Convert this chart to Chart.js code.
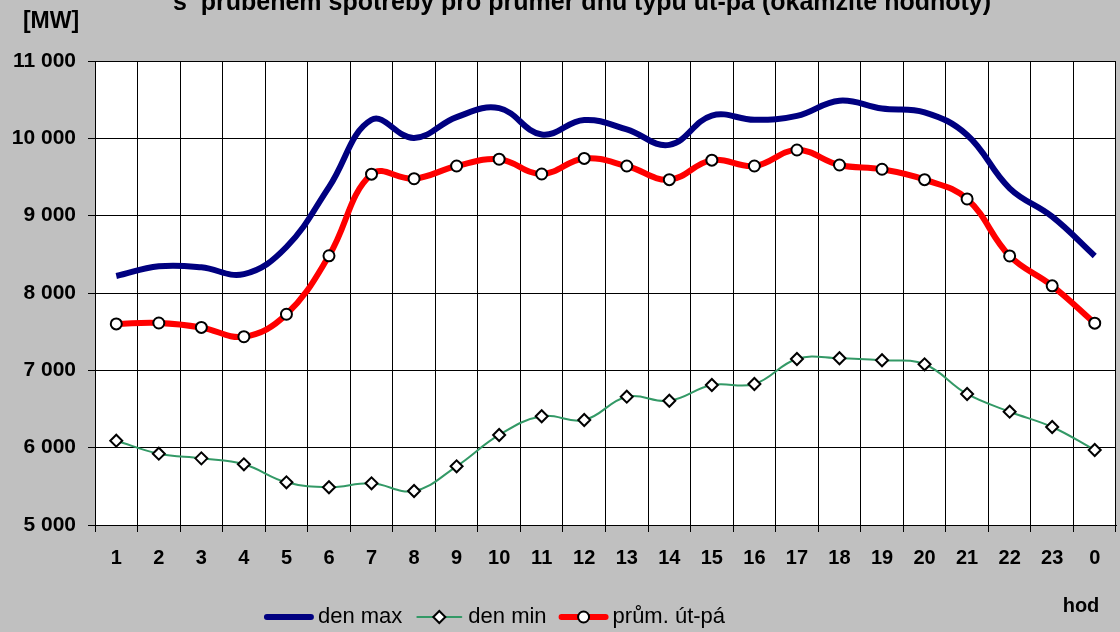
<!DOCTYPE html>
<html><head><meta charset="utf-8">
<script src="https://cdn.jsdelivr.net/npm/chart.js@4/dist/chart.umd.min.js"></script>
<style>
html,body{margin:0;padding:0;background:#c0c0c0;overflow:hidden;}
#wrap{position:relative;width:1124px;height:632px;}
</style></head><body>
<div id="wrap"><canvas id="c" width="1124" height="632"></canvas></div>
<script>
const hours = ['1','2','3','4','5','6','7','8','9','10','11','12','13','14','15','16','17','18','19','20','21','22','23','0'];
const denMax = [8220,8345,8332,8244,8595,9370,10240,10005,10275,10390,10050,10237,10115,9915,10295,10240,10290,10487,10385,10337,10043,9354,8987,8479];
const denMin = [6090,5922,5862,5785,5552,5488,5539,5440,5759,6164,6406,6358,6659,6607,6810,6823,7147,7156,7130,7078,6694,6465,6267,5970];
const prumUtPa = [7600,7612,7555,7435,7725,8481,9537,9478,9642,9730,9539,9740,9642,9466,9718,9642,9849,9655,9600,9466,9216,8479,8093,7610];
const yMin = 5000, yMax = 11000, yStep = 1000;
const seriesNames = ['den max','den min','prům. út-pá'];
const titleText = 's  průběhem spotřeby pro průměr dnů typu út-pá (okamžité hodnoty)';
const unitLabel = '[MW]';
const xAxisLabel = 'hod';

const FONT = '"Liberation Sans", Arial, sans-serif';
const COL_MAX = '#000080', COL_MIN = '#339966', COL_AVG = '#ff0000';

const decor = {
  id: 'decor',
  beforeDraw(chart) {
    const {ctx, chartArea: a} = chart;
    ctx.save();
    ctx.fillStyle = '#ffffff';
    ctx.fillRect(a.left, a.top, a.right - a.left, a.bottom - a.top);
    ctx.restore();
  },
  afterDraw(chart) {
    const ctx = chart.ctx;
    ctx.save();
    ctx.fillStyle = '#000';
    ctx.textBaseline = 'alphabetic';
    ctx.textAlign = 'center';
    ctx.font = 'bold 25px ' + FONT;
    ctx.fillText(titleText, 582, 10);
    ctx.font = 'bold 23px ' + FONT;
    ctx.textBaseline = 'middle';
    ctx.fillText(unitLabel, 51, 22);
    ctx.font = 'bold 20px ' + FONT;
    ctx.fillText(xAxisLabel, 1081, 606);

    // legend
    const ds = chart.data.datasets;
    ctx.font = '22px ' + FONT;
    const sample = 48, gap = 5, spacing = 13;
    const widths = ds.map(d => sample + gap + ctx.measureText(d.label).width);
    const total = widths.reduce((s, w) => s + w, 0) + spacing * (ds.length - 1);
    let x = 495 - total / 2;
    const y = 617;
    ds.forEach((d, i) => {
      ctx.strokeStyle = d.borderColor;
      ctx.lineWidth = d.borderWidth;
      ctx.lineCap = 'round';
      ctx.beginPath();
      ctx.moveTo(x + 2, y);
      ctx.lineTo(x + sample - 2, y);
      ctx.stroke();
      if (d.pointRadius > 0) {
        ctx.fillStyle = d.pointBackgroundColor;
        ctx.strokeStyle = d.pointBorderColor;
        ctx.lineWidth = d.pointBorderWidth;
        Chart.helpers.drawPoint(ctx, {pointStyle: d.pointStyle, radius: d.pointRadius, borderWidth: d.pointBorderWidth, rotation: 0}, x + sample / 2, y);
      }
      ctx.fillStyle = '#000';
      ctx.textAlign = 'left';
      ctx.textBaseline = 'middle';
      ctx.fillText(d.label, x + sample + gap, y);
      x += widths[i] + spacing;
    });
    ctx.restore();
  }
};

new Chart(document.getElementById('c'), {
  type: 'line',
  data: {
    labels: hours,
    datasets: [
      {label: seriesNames[0], data: denMax, borderColor: COL_MAX, backgroundColor: COL_MAX, borderWidth: 6, pointRadius: 0, pointHoverRadius: 0, tension: 0.4, fill: false},
      {label: seriesNames[1], data: denMin, borderColor: COL_MIN, backgroundColor: COL_MIN, borderWidth: 2, pointStyle: 'rectRot', pointRadius: 6, pointBackgroundColor: '#fff', pointBorderColor: '#000', pointBorderWidth: 2, tension: 0.4, fill: false},
      {label: seriesNames[2], data: prumUtPa, borderColor: COL_AVG, backgroundColor: COL_AVG, borderWidth: 6, pointStyle: 'circle', pointRadius: 5.5, pointBackgroundColor: '#fff', pointBorderColor: '#000', pointBorderWidth: 2, tension: 0.4, fill: false}
    ]
  },
  options: {
    responsive: false,
    animation: false,
    devicePixelRatio: 1,
    layout: {padding: {left: 0, top: 61, right: 2, bottom: 67}},
    plugins: {legend: {display: false}, title: {display: false}, tooltip: {enabled: false}},
    scales: {
      x: {
        type: 'category',
        offset: true,
        grid: {offset: true, color: '#000', lineWidth: 1, tickLength: 7, drawTicks: true},
        border: {color: '#000', width: 1},
        ticks: {color: '#000', font: {family: FONT, size: 20, weight: 'bold'}, padding: 14, maxRotation: 0, autoSkip: false},
        afterFit: s => { s.height = 40; }
      },
      y: {
        min: yMin, max: yMax,
        grid: {color: '#000', lineWidth: 1, tickLength: 7, drawTicks: true},
        border: {color: '#000', width: 1},
        ticks: {stepSize: yStep, color: '#000', font: {family: FONT, size: 21, weight: 'bold'}, padding: 12,
          callback: v => String(v).replace(/\B(?=(\d{3})+(?!\d))/g, ' ')},
        afterFit: s => { s.width = 95; }
      }
    }
  },
  plugins: [decor]
});
</script>
</body></html>
